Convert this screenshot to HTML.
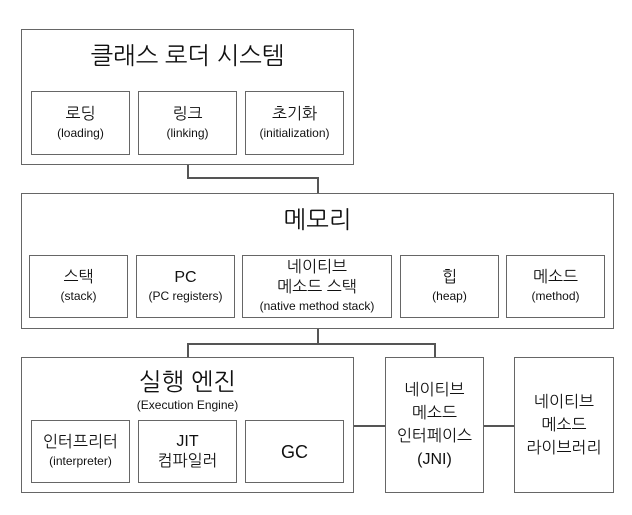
<!DOCTYPE html>
<html><head><meta charset="utf-8"><style>
body{margin:0;width:632px;height:515px;background:#fff;position:relative;overflow:hidden;font-family:"Liberation Sans","NanumGothic","Noto Sans CJK KR",sans-serif;color:#111}
.b{position:absolute;border:1.5px solid #666;box-sizing:border-box;background:#fff}
.s{display:flex;flex-direction:column;align-items:center;justify-content:center;text-align:center;font-size:16px;line-height:20px}
.s small{font-size:12px;line-height:17px}
.t{position:absolute;text-align:center;font-size:24px}
.l{position:absolute;background:#555}
</style></head><body>
<div class="l" style="left:187px;top:164px;width:1.5px;height:14px"></div>
<div class="l" style="left:187px;top:177px;width:131px;height:1.5px"></div>
<div class="l" style="left:317px;top:177px;width:1.5px;height:17px"></div>
<div class="l" style="left:317px;top:328px;width:1.5px;height:16px"></div>
<div class="l" style="left:187px;top:343px;width:248px;height:1.5px"></div>
<div class="l" style="left:187px;top:343px;width:1.5px;height:15px"></div>
<div class="l" style="left:434px;top:343px;width:1.5px;height:15px"></div>
<div class="l" style="left:353px;top:425px;width:162px;height:1.5px"></div>

<div class="b" style="left:21px;top:29px;width:333px;height:136px"></div>
<div class="t" style="left:21px;top:41px;width:333px">클래스 로더 시스템</div>
<div class="b s" style="left:31px;top:91px;width:99px;height:64px">로딩<small>(loading)</small></div>
<div class="b s" style="left:138px;top:91px;width:99px;height:64px">링크<small>(linking)</small></div>
<div class="b s" style="left:245px;top:91px;width:99px;height:64px">초기화<small>(initialization)</small></div>

<div class="b" style="left:21px;top:193px;width:593px;height:136px"></div>
<div class="t" style="left:21px;top:205px;width:593px">메모리</div>
<div class="b s" style="left:29px;top:255px;width:99px;height:63px">스택<small>(stack)</small></div>
<div class="b s" style="left:136px;top:255px;width:99px;height:63px">PC<small>(PC registers)</small></div>
<div class="b s" style="left:242px;top:255px;width:150px;height:63px">네이티브<br>메소드 스택<small>(native method stack)</small></div>
<div class="b s" style="left:400px;top:255px;width:99px;height:63px">힙<small>(heap)</small></div>
<div class="b s" style="left:506px;top:255px;width:99px;height:63px">메소드<small>(method)</small></div>

<div class="b" style="left:21px;top:357px;width:333px;height:136px"></div>
<div class="t" style="left:21px;top:369px;width:333px;line-height:28px">실행 엔진</div>
<div class="t" style="left:21px;top:398px;width:333px;font-size:12px">(Execution Engine)</div>
<div class="b s" style="left:31px;top:420px;width:99px;height:63px">인터프리터<small>(interpreter)</small></div>
<div class="b s" style="left:138px;top:420px;width:99px;height:63px">JIT<br>컴파일러</div>
<div class="b s" style="left:245px;top:420px;width:99px;height:63px;font-size:18px">GC</div>

<div class="b s" style="left:385px;top:357px;width:99px;height:136px;line-height:23px">네이티브<br>메소드<br>인터페이스<br>(JNI)</div>
<div class="b s" style="left:514px;top:357px;width:100px;height:136px;line-height:23px">네이티브<br>메소드<br>라이브러리</div>
</body></html>
